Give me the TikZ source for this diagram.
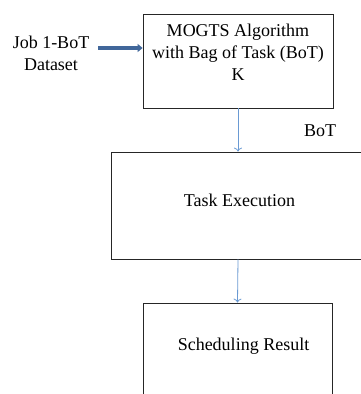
\documentclass[tikz,border=0pt]{standalone}
\usepackage{fontspec}
\setmainfont{Liberation Serif}
\usetikzlibrary{arrows.meta}
\definecolor{flowblue}{HTML}{6A9AD3}
\definecolor{feedblue}{HTML}{41679A}
\begin{document}
\begin{tikzpicture}[x=1pt,y=-1pt,
  boxstyle/.style={draw=black!85,line width=0.8pt,inner sep=0pt},
  lbl/.style={font=\fontsize{18}{22}\selectfont,inner sep=0pt,align=center},
  flow/.style={draw=flowblue,line width=0.8pt,-{To[length=4pt,width=8pt]}},
  feed/.style={draw=feedblue,line width=3.2pt,-{Triangle[length=5pt,width=8pt]}}]
\useasboundingbox (0,0) rectangle (360,394);
% boxes
\node[boxstyle,minimum width=190pt,minimum height=94pt] (algo) at (238,61) {};
\node[boxstyle,minimum width=254pt,minimum height=107pt] (exec) at (238,205.5) {};
\node[boxstyle,minimum width=189pt,minimum height=100pt] (result) at (237.5,353) {};
% texts
\node[lbl] (algotext) at (238,52) {MOGTS Algorithm\\with Bag of Task (BoT)\\K};
\node[lbl] (exectext) at (239.5,200) {Task Execution};
\node[lbl] (restext) at (243.5,346) {Scheduling Result};
\node[lbl] (input) at (51,53) {Job 1-BoT\\Dataset};
\node[lbl] (bot) at (320,131) {BoT};
% connectors
\coordinate (feedstart) at (98,48);
\draw[feed] (feedstart) -- (algo.west |- feedstart);
\draw[flow] (algo.south) -- (exec.north);
\draw[flow] (exec.south) -- (result.north);
\end{tikzpicture}
\end{document}
